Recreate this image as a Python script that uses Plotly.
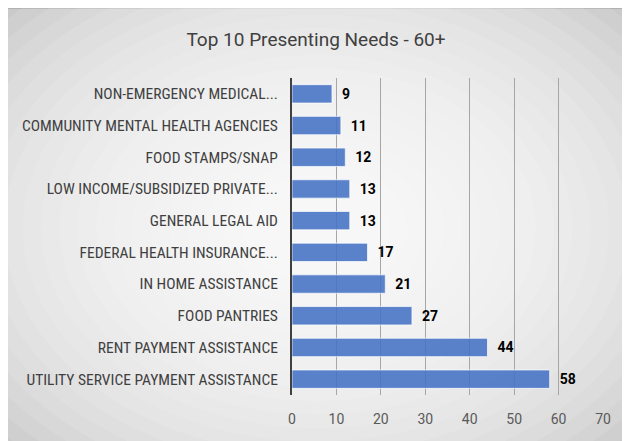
import plotly.graph_objects as go

categories = [
    "UTILITY SERVICE PAYMENT ASSISTANCE",
    "RENT PAYMENT ASSISTANCE",
    "FOOD PANTRIES",
    "IN HOME ASSISTANCE",
    "FEDERAL HEALTH INSURANCE...",
    "GENERAL LEGAL AID",
    "LOW INCOME/SUBSIDIZED PRIVATE...",
    "FOOD STAMPS/SNAP",
    "COMMUNITY MENTAL HEALTH AGENCIES",
    "NON-EMERGENCY MEDICAL...",
]
values = [58, 44, 27, 21, 17, 13, 13, 12, 11, 9]
x_ticks = [0, 10, 20, 30, 40, 50, 60, 70]

W, H = 630, 441
OFF = 8  # page body margin offset
L, T = 292 - OFF, 78 - OFF
R = W - (603 - OFF)
B = H - (395 - OFF)
PW, PH = W - L - R, H - T - B

def px(x):
    return (x - OFF - L) / PW

def py(y):
    return 1 - (y - OFF - T) / PH

CONDENSED = "Roboto Condensed, Roboto, sans-serif"
ROBOTO = "Roboto, sans-serif"

shapes = [dict(type="rect", xref="paper", yref="paper",
               x0=px(2), x1=px(W + 20), y0=py(8.5), y1=py(H + 20),
               fillcolor="#c4c4c4", line=dict(color="#a8a8a8", width=1), layer="below")]
cx, cy = 316, 228
N = 24
for i in range(N):
    f = 1 - i / N
    rx, ry = 440 * f, 320 * f
    shapes.append(dict(type="circle", xref="paper", yref="paper",
                       x0=px(cx - rx), x1=px(cx + rx), y0=py(cy + ry), y1=py(cy - ry),
                       fillcolor="rgba(255,255,255,0.11)", line=dict(width=0), layer="below"))

fig = go.Figure(go.Bar(
    x=values, y=categories, orientation="h",
    marker=dict(color="rgba(68,114,196,0.88)", line=dict(color="rgba(255,255,255,0.7)", width=1)),
    text=values, texttemplate="  %{x}", textposition="outside", cliponaxis=False,
    textfont=dict(family=ROBOTO, size=14, color="black", weight="bold"),
))

fig.update_layout(
    width=W, height=H,
    margin=dict(l=L, r=R, t=T, b=B, autoexpand=False),
    paper_bgcolor="white", plot_bgcolor="rgba(0,0,0,0)",
    shapes=shapes,
    bargap=0.42,
    showlegend=False,
    title=dict(text="Top 10 Presenting Needs - 60+", x=(316 - OFF) / W, xref="container", xanchor="center",
               y=1 - (39 - OFF) / H, yref="container", yanchor="middle", automargin=False,
               font=dict(family=ROBOTO, size=19, color="#404040")),
)
fig.update_xaxes(range=[0, 70], tickvals=x_ticks, showgrid=True, gridcolor="#a6a6a6", gridwidth=1,
                 zeroline=False, showline=False, ticks="", ticklabelstandoff=14, automargin=False,
                 tickfont=dict(family=ROBOTO, size=14, color="#595959"))
fig.update_yaxes(showline=True, linecolor="#404040", linewidth=2, showgrid=False, ticks="",
                 ticklabelstandoff=9, range=[-0.5, 9.5], automargin=False,
                 tickfont=dict(family=CONDENSED, size=15.5, color="#404040"))

fig.write_html("out.html")
